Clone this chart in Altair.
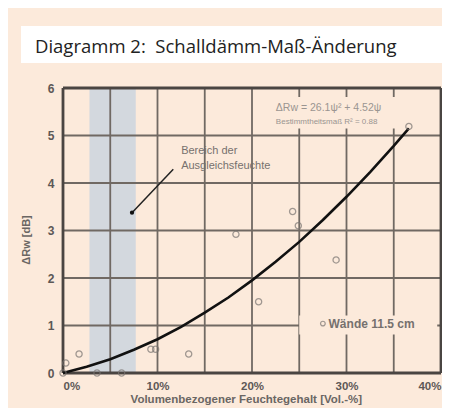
import altair as alt
import pandas as pd

# ---- data ----
moisture = [0.0, 0.3, 1.7, 3.6, 6.2, 9.3, 9.8, 13.3, 18.3, 20.7, 24.3, 24.9, 28.9, 36.6]
delta_rw = [0.0, 0.21, 0.4, 0.0, 0.0, 0.5, 0.5, 0.4, 2.92, 1.5, 3.4, 3.1, 2.38, 5.19]

curve_x = [0, 2.5, 5, 7.5, 10, 12.5, 15, 17.5, 20, 22.5, 25, 27.5, 30, 32.5, 35, 36.6]
curve_y = [0, 0.13, 0.29, 0.49, 0.71, 0.97, 1.27, 1.59, 1.95, 2.34, 2.76, 3.22, 3.71, 4.23, 4.78, 5.15]

band = [2.8, 7.7]
x_grid = [0, 5, 10, 15, 20, 25, 30, 35, 40]
y_grid = [0, 1, 2, 3, 4, 5, 6]

title_text = "Diagramm 2:\u00a0 Schalldämm-Maß-Änderung"
x_title = "Volumenbezogener Feuchtegehalt [Vol.-%]"
y_title = "ΔRw [dB]"
eq_lines = ["ΔRw = 26.1ψ² + 4.52ψ", "Bestimmtheitsmaß R² = 0.88"]
note_lines = ["Bereich der", "Ausgleichsfeuchte"]
legend_label = "Wände 11.5 cm"

PEACH = "#FCEADB"
GRID = "#706963"
FRAME = "#4A4542"
LABEL = "#5C5856"

W, H = 378, 285

pts = pd.DataFrame({"x": moisture, "y": delta_rw})
curve = pd.DataFrame({"x": curve_x, "y": curve_y})
band_df = pd.DataFrame({"x": [band[0]], "x2": [band[1]], "y": [0], "y2": [6]})
xg = pd.DataFrame({"v": x_grid})
yg = pd.DataFrame({"v": y_grid})

xs = alt.Scale(domain=[0, 40], nice=False)
ys = alt.Scale(domain=[0, 6], nice=False)

one = pd.DataFrame({"a": [0]})

def X(f="x"):
    return alt.X(f + ":Q", scale=xs)

def Y(f="y"):
    return alt.Y(f + ":Q", scale=ys)

# title box + text
title_box = alt.Chart(one).mark_rect(color="white").encode(
    x=alt.value(-42), x2=alt.value(W + 2), y=alt.value(-62), y2=alt.value(-25))
title_txt = alt.Chart(one).mark_text(
    text=title_text, align="left", baseline="alphabetic", font="Open Sans",
    fontSize=18.5, color="#222222").encode(x=alt.value(-28), y=alt.value(-35))

band_layer = alt.Chart(band_df).mark_rect(color="#D3D8DE").encode(
    x=alt.X("x:Q", scale=xs,
            axis=alt.Axis(values=x_grid, grid=False, domain=False, ticks=False,
                          labelExpr="datum.value % 10 == 0 ? datum.value + '%' : ''",
                          labelFont="Liberation Sans", labelFontWeight="bold",
                          labelFontSize=11.5, labelColor=LABEL, labelPadding=7,
                          title=None)),
    x2="x2:Q",
    y=alt.Y("y:Q", scale=ys,
            axis=alt.Axis(values=y_grid, grid=False, domain=False, ticks=False,
                          labelFont="Liberation Sans", labelFontWeight="bold",
                          labelFontSize=12, labelColor=LABEL, labelPadding=9,
                          title=None)),
    y2="y2:Q")

vgrid = alt.Chart(xg).mark_rule(color=GRID, strokeWidth=1.8).encode(x=X("v"))
hgrid = alt.Chart(yg).mark_rule(color=GRID, strokeWidth=1.8).encode(y=Y("v"))

vframe = alt.Chart(pd.DataFrame({"v": [0, 40]})).mark_rule(
    color=FRAME, strokeWidth=2.8).encode(x=X("v"))
hframe = alt.Chart(pd.DataFrame({"v": [0, 6]})).mark_rule(
    color=FRAME, strokeWidth=2.8).encode(y=Y("v"))

# peach boxes behind equation and legend
boxes = pd.DataFrame({"x": [21.0, 25.0], "x2": [36.1, 39.6],
                      "y": [5.81, 1.21], "y2": [5.15, 0.81]})
box_layer = alt.Chart(boxes).mark_rect(color=PEACH).encode(
    x=X("x"), x2="x2:Q", y=Y("y"), y2="y2:Q")

line = alt.Chart(curve).mark_line(color="#111111", strokeWidth=2.6).encode(
    x=X(), y=Y())

points = alt.Chart(pts).mark_point(shape="circle", filled=False, color="#7A7572",
                                   size=38, strokeWidth=1.3).encode(x=X(), y=Y())

# annotation
ann = pd.DataFrame({"x": [7.3], "y": [3.375], "x2": [11.67], "y2": [4.29]})
ann_line = alt.Chart(ann).mark_rule(color="#222222", strokeWidth=1.5).encode(
    x=X(), y=Y(), x2="x2:Q", y2="y2:Q")
ann_dot = alt.Chart(ann).mark_circle(color="#111111", size=18, opacity=1).encode(
    x=X(), y=Y())
note_df = pd.DataFrame({"t": note_lines, "x": [12.5, 12.5], "y": [4.67, 4.35]})
note = alt.Chart(note_df).mark_text(align="left", baseline="middle",
                                    font="Liberation Sans", fontSize=11,
                                    color="#76716E").encode(x=X(), y=Y(), text="t:N")

eq_df = pd.DataFrame({"t": eq_lines, "x": [28.1, 27.9], "y": [5.58, 5.29],
                      "s": [10.5, 8]})
eq_t = alt.Chart(eq_df).mark_text(align="center", baseline="middle",
                                  font="Liberation Sans",
                                  color="#9A9591").encode(
    x=X(), y=Y(), text="t:N", size=alt.Size("s:Q", scale=None, legend=None))

leg_df = pd.DataFrame({"x": [27.5], "tx": [28.1], "y": [1.04], "t": [legend_label]})
leg_pt = alt.Chart(leg_df).mark_point(shape="circle", filled=False, color="#7A7572",
                                      size=22, strokeWidth=1.2).encode(x=X(), y=Y())
leg_txt = alt.Chart(leg_df).mark_text(align="left", baseline="middle",
                                      font="Liberation Sans", fontSize=12,
                                      fontWeight="bold", color="#76716E").encode(
    x=X("tx"), y=Y(), text="t:N")

ytitle = alt.Chart(pd.DataFrame({"y": [2.8], "t": [y_title]})).mark_text(
    angle=270, align="center", baseline="middle", font="Liberation Sans",
    fontSize=11, fontWeight="bold", color="#6A6663").encode(
    x=alt.value(-36), y=Y(), text="t:N")
xtitle = alt.Chart(pd.DataFrame({"x": [19.4], "t": [x_title]})).mark_text(
    align="center", baseline="middle", font="Liberation Sans", fontSize=11.5,
    fontWeight="bold", color="#6A6663").encode(
    x=X(), y=alt.value(H + 27), text="t:N")

chart = alt.layer(
    title_box, title_txt, band_layer, vgrid, hgrid, vframe, hframe,
    box_layer, line, points, ann_line, ann_dot, note,
    eq_t, leg_pt, leg_txt, ytitle, xtitle
).properties(
    width=W, height=H,
    autosize=alt.AutoSizeParams(type="none"),
    padding={"left": 55, "top": 80, "right": 1, "bottom": 35},
    background=PEACH,
).configure_view(stroke=None)

chart.save("out.html", embed_options={"renderer": "svg", "actions": False})
